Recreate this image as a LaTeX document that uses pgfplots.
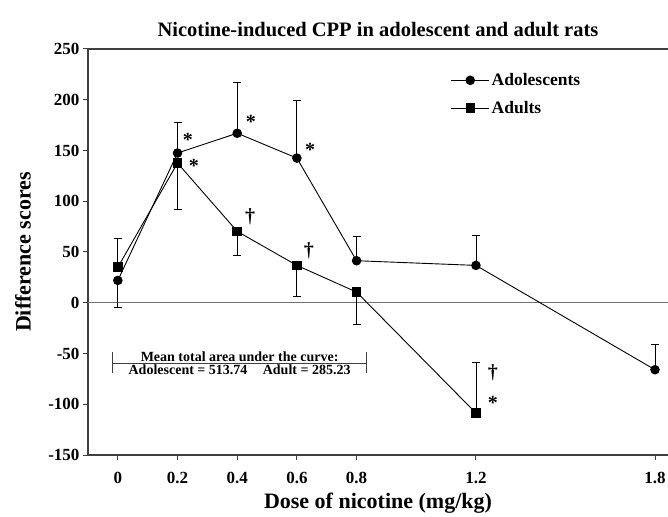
\documentclass[border=0pt]{standalone}
\usepackage{fontspec}
\setmainfont{Liberation Serif}
\usepackage{pgfplots}
\pgfplotsset{compat=1.18}
\begin{document}
\begin{tikzpicture}
\path[use as bounding box] (0,0) rectangle (668pt,516pt);
\begin{axis}[
  at={(88pt,61pt)}, anchor=south west,
  scale only axis, width=580pt, height=406pt,
  xmin=-0.1, xmax=1.8436, ymin=-150, ymax=250,
  axis x line*=bottom, axis y line*=left,
  axis line style={-, line width=1.3pt, black!75},
  xtick={0,0.2,0.4,0.6,0.8,1.2,1.8},
  xticklabels={0,0.2,0.4,0.6,0.8,1.2,1.8},
  ytick={-150,-100,-50,0,50,100,150,200,250},
  yticklabels={-150,-100,-50,0,50,100,150,200,250},
  tick align=outside, major tick length=5pt,
  tick style={black!75, line width=1pt},
  tick label style={font=\bfseries\fontsize{17}{20}\selectfont},
  xticklabel style={yshift=-9pt},
  xlabel={Dose of nicotine (mg/kg)},
  ylabel={Difference scores},
  every axis x label/.style={at={(axis description cs:0.5,-0.118)}, anchor=center},
  every axis y label/.style={at={(axis description cs:-0.112,0.5)}, anchor=center, rotate=90},
  label style={font=\bfseries\fontsize{22}{26}\selectfont},
  title={Nicotine-induced CPP in adolescent and adult rats},
  title style={font=\bfseries\fontsize{20.5}{24}\selectfont, yshift=3pt},
  clip=false,
  legend style={at={(0.62,0.95)}, anchor=north west, draw=none, fill=none,
    font=\bfseries\fontsize{17.5}{20}\selectfont, row sep=10pt},
  legend cell align=left,
  legend image code/.code={\draw[#1,mark=none] (0pt,0pt) -- (38pt,0pt); \draw[#1] plot coordinates {(19pt,0pt)};},
]
\draw[black!75, line width=1.3pt] (rel axis cs:0,1) -- (rel axis cs:1,1);
% zero line
\addplot[black!55, line width=1.4pt, forget plot] coordinates {(-0.1,0) (1.8436,0)};
% error bars adolescents
\addplot[draw=none, mark=none, forget plot, black,
  error bars/.cd, y dir=plus, y explicit, error bar style={line width=0.8pt, black}, error mark options={rotate=90, mark size=4pt, line width=0.8pt}]
  coordinates {(0.2,147.5) +- (0,30.5) (0.4,167) +- (0,50) (0.6,142.5) +- (0,56.5) (0.8,41.4) +- (0,23.6) (1.2,36.8) +- (0,30) (1.8,-66) +- (0,25.3)};
\addplot[draw=none, mark=none, forget plot, black,
  error bars/.cd, y dir=minus, y explicit, error bar style={line width=0.8pt, black}, error mark options={rotate=90, mark size=4pt, line width=0.8pt}]
  coordinates {(0,22) +- (0,27)};
% error bars adults
\addplot[draw=none, mark=none, forget plot, black,
  error bars/.cd, y dir=plus, y explicit, error bar style={line width=0.8pt, black}, error mark options={rotate=90, mark size=4pt, line width=0.8pt}]
  coordinates {(0,35) +- (0,28.7) (1.2,-108.7) +- (0,50.3)};
\addplot[draw=none, mark=none, forget plot, black,
  error bars/.cd, y dir=minus, y explicit, error bar style={line width=0.8pt, black}, error mark options={rotate=90, mark size=4pt, line width=0.8pt}]
  coordinates {(0.2,137.6) +- (0,45.3) (0.4,70.3) +- (0,24) (0.6,36.8) +- (0,30.6) (0.8,10.5) +- (0,32.2)};
% data
\addplot[black, line width=0.9pt, mark=*, mark size=4.3pt, mark options={solid, fill=black}]
  coordinates {(0,22) (0.2,147.5) (0.4,167) (0.6,142.5) (0.8,41.4) (1.2,36.8) (1.8,-66)};
\addlegendentry{Adolescents}
\addplot[black, line width=0.9pt, mark=square*, mark size=4.3pt, mark options={solid, fill=black}]
  coordinates {(0,35) (0.2,137.6) (0.4,70.3) (0.6,36.8) (0.8,10.5) (1.2,-108.7)};
\addlegendentry{Adults}
% significance marks
\begin{scope}[font=\bfseries\fontsize{20}{22}\selectfont]
\node at (axis cs:0.235,160) {*};
\node at (axis cs:0.446,178) {*};
\node at (axis cs:0.644,151) {*};
\node at (axis cs:0.255,135) {*};
\node at (axis cs:0.443,85) {\dag};
\node at (axis cs:0.640,51) {\dag};
\node at (axis cs:1.257,-69.3) {\dag};
\node at (axis cs:1.257,-99) {*};
\end{scope}
% annotation bracket
\draw[black!75, line width=1pt] (axis cs:-0.018,-59.4) -- (axis cs:0.834,-59.4);
\draw[black!75, line width=1pt] (axis cs:-0.018,-48.5) -- (axis cs:-0.018,-69.5);
\draw[black!75, line width=1pt] (axis cs:0.834,-48.5) -- (axis cs:0.834,-69.5);
\node[anchor=south, inner sep=1.5pt, font=\bfseries\fontsize{14}{16}\selectfont] at (axis cs:0.408,-59.4) {Mean total area under the curve:};
\node[anchor=north, inner sep=2pt, font=\bfseries\fontsize{14}{16}\selectfont] at (axis cs:0.408,-59.4) {Adolescent = 513.74\hspace{1.1em}Adult = 285.23};
\end{axis}
\end{tikzpicture}
\end{document}
